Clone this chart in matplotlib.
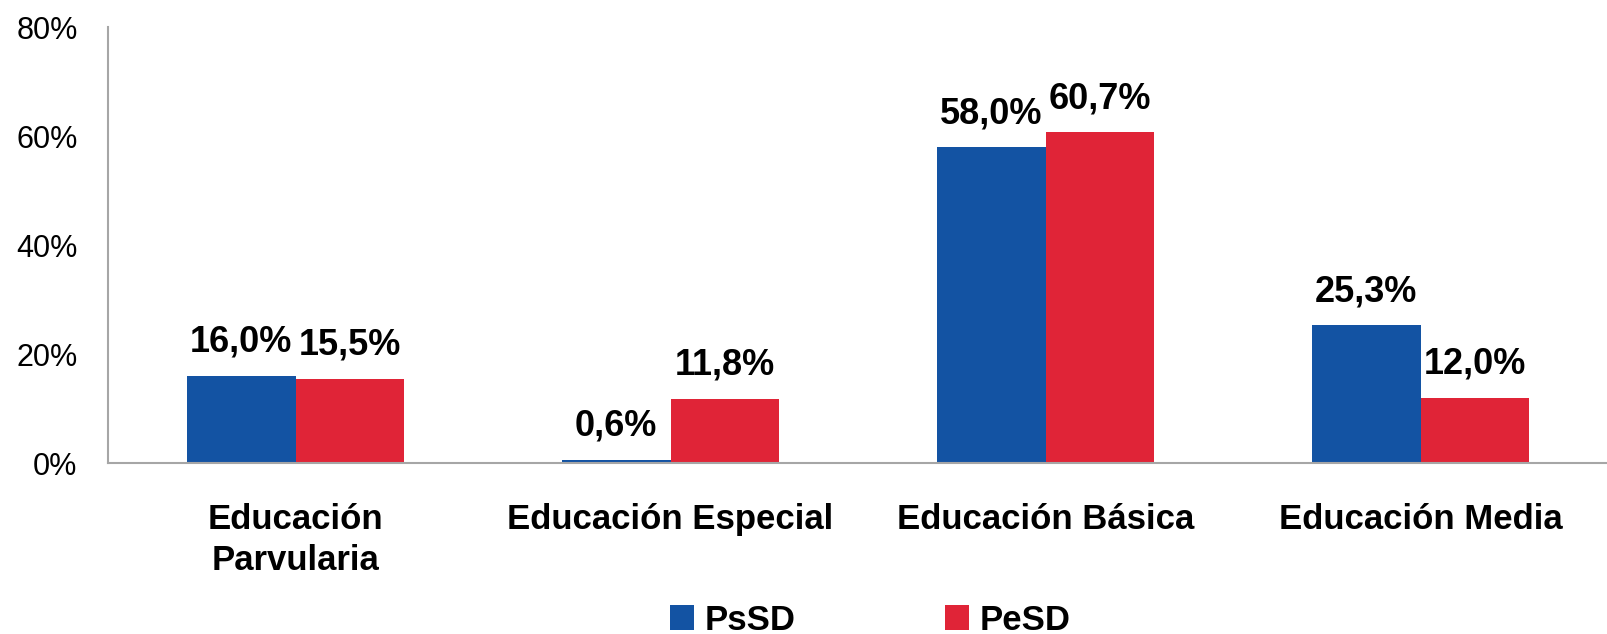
import matplotlib.pyplot as plt
import numpy as np

plt.rcParams['font.family'] = ['Liberation Sans', 'DejaVu Sans']

# data
categories = ['Educación\nParvularia', 'Educación Especial', 'Educación Básica', 'Educación Media']
psd = [16.0, 0.6, 58.0, 25.3]
pesd = [15.5, 11.8, 60.7, 12.0]
series_names = ['PsSD', 'PeSD']
colors = ['#1353A3', '#E02437']
yticks = [0, 20, 40, 60, 80]

fig = plt.figure(figsize=(16.08, 6.34), dpi=100)
ax = fig.add_axes([0.0672, 0.2697, 0.9328, 0.6877])

x = np.arange(len(categories))
w = 0.29
bars1 = ax.bar(x - w / 2, psd, w, color=colors[0], label=series_names[0])
bars2 = ax.bar(x + w / 2, pesd, w, color=colors[1], label=series_names[1])

# value labels above each bar
for bars, vals in [(bars1, psd), (bars2, pesd)]:
    for b, v in zip(bars, vals):
        ax.annotate(f"{v:.1f}%".replace('.', ','),
                    (b.get_x() + b.get_width() / 2, v),
                    xytext=(0, 24), textcoords='offset points',
                    ha='center', va='center', fontsize=26, fontweight='bold')

ax.set_xlim(-0.5, len(categories) - 0.5)
ax.set_ylim(0, 80)
ax.set_yticks(yticks)
ax.set_yticklabels([f"{t}%" for t in yticks], fontsize=22)
ax.set_xticks(x)
ax.set_xticklabels(categories, fontsize=25, fontweight='bold', linespacing=1.3)
ax.tick_params(axis='y', length=0, pad=22)
ax.tick_params(axis='x', length=0, pad=29)

for s in ['top', 'right']:
    ax.spines[s].set_visible(False)
for s in ['left', 'bottom']:
    ax.spines[s].set_color('#a6a6a6')
    ax.spines[s].set_linewidth(1.5)

fig.legend(loc='center', bbox_to_anchor=(870 / 1608, 1 - 620 / 634), ncol=2,
           frameon=False, prop={'size': 25, 'weight': 'bold'},
           handlelength=0.7, handleheight=0.7, handletextpad=0.3,
           columnspacing=4.3)

fig.savefig('out.png', dpi=100)
plt.close(fig)
